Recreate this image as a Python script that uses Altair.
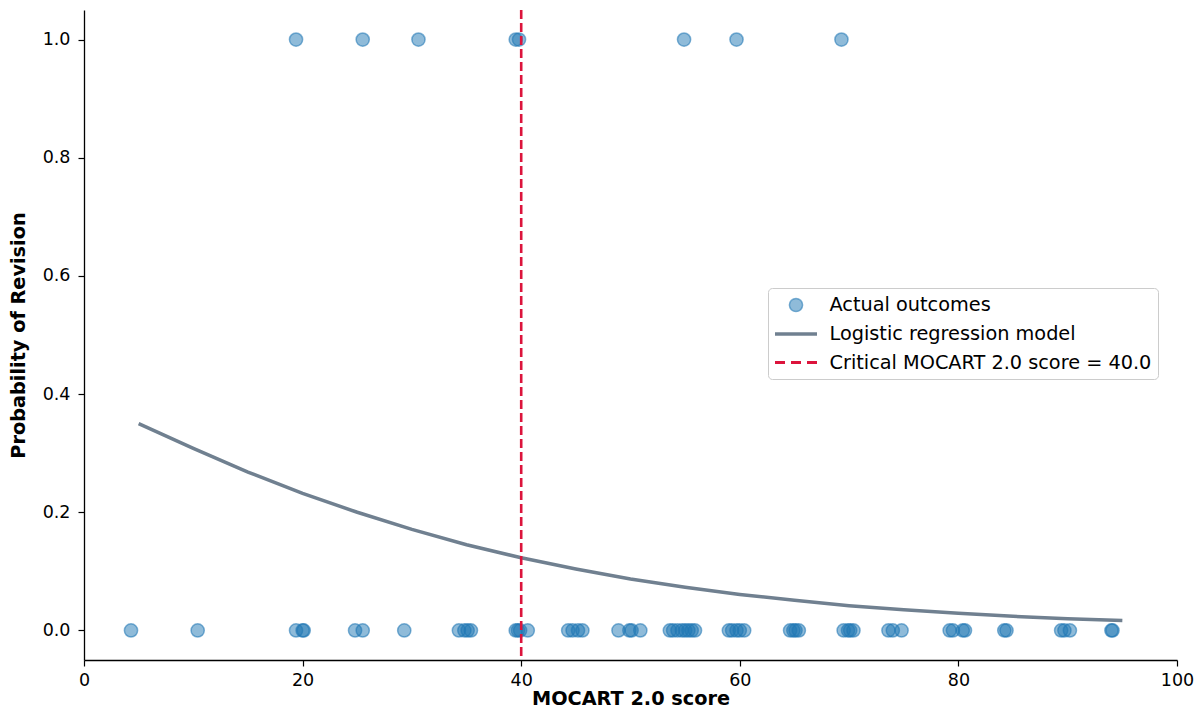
import altair as alt
import pandas as pd

# ---- data ----
revised_scores = [19.4, 25.5, 30.6, 39.5, 39.8, 54.9, 59.7, 69.3]
not_revised_scores = [4.3, 10.4, 19.4, 20.0, 20.1, 24.8, 25.5, 29.3,
                      34.3, 34.8, 35.1, 35.4, 39.5, 39.7, 39.9, 40.6,
                      44.3, 44.7, 45.2, 45.6, 48.9, 49.9, 50.1, 50.9,
                      53.6, 53.9, 54.3, 54.7, 55.0, 55.3, 55.6, 55.9,
                      59.0, 59.3, 59.7, 60.0, 60.4,
                      64.6, 64.9, 65.1, 65.4, 69.5, 69.9, 70.1, 70.4,
                      73.6, 74.0, 74.8, 79.2, 79.5, 80.4, 80.6,
                      84.2, 84.4, 89.4, 89.7, 90.2, 94.0, 94.1]
curve_scores = [5, 10, 15, 20, 25, 30, 35, 40, 45, 50, 55, 60, 65, 70, 75, 80, 85, 90, 95]
curve_prob = [0.350, 0.308, 0.268, 0.232, 0.200, 0.171, 0.145, 0.123, 0.104, 0.087,
              0.073, 0.061, 0.051, 0.042, 0.035, 0.029, 0.024, 0.020, 0.017]
critical_score = [40.0]

series_names = ["Actual outcomes", "Logistic regression model",
                "Critical MOCART 2.0 score = 40.0"]

x_ticks = [0, 20, 40, 60, 80, 100]
y_ticks = [0.0, 0.2, 0.4, 0.6, 0.8, 1.0]

points = pd.DataFrame({
    "score": revised_scores + not_revised_scores,
    "outcome": [1.0] * len(revised_scores) + [0.0] * len(not_revised_scores),
    "series": [series_names[0]] * (len(revised_scores) + len(not_revised_scores)),
})
curve = pd.DataFrame({"score": curve_scores, "prob": curve_prob})
crit = pd.DataFrame({"score": critical_score})

FONT = "DejaVu Sans"
BLUE_FILL = "rgba(31,119,180,0.5)"
BLUE_EDGE = "rgba(31,119,180,0.55)"
GRAY = "#708090"
RED = "#DC143C"

circle_path = "M-0.66,0A0.66,0.66,0,1,1,0.66,0A0.66,0.66,0,1,1,-0.66,0Z"
line_path = "M-2.1,0H2.1"
dash_path = "M-2.1,0H-1.1M-0.5,0H0.5M1.1,0H2.1"

x_scale = alt.Scale(domain=[0, 100], nice=False, zero=False)
y_scale = alt.Scale(domain=[-0.05, 1.05], nice=False, zero=False)

axis_common = dict(grid=False, tickSize=6, tickWidth=1.2, tickColor="black",
                   domainColor="black", domainWidth=1.3,
                   labelFont=FONT, labelFontSize=17.5, labelColor="black",
                   titleFont=FONT, titleFontSize=19.3, titleFontWeight="bold",
                   titleColor="black", labelFlush=False)

x_axis = alt.Axis(title="MOCART 2.0 score", values=x_ticks, format="d",
                  labelPadding=5, titlePadding=1, **axis_common)
y_axis = alt.Axis(title="Probability of Revision", values=y_ticks, format=".1f",
                  labelPadding=8, titlePadding=14, **axis_common)

legend = alt.Legend(title=None, orient="none", legendX=684, legendY=278,
                    padding=6, fillColor="white", strokeColor="#cccccc",
                    cornerRadius=4, labelFont=FONT, labelFontSize=19.3,
                    labelColor="black", symbolSize=400, symbolOffset=10,
                    labelOffset=21.5, rowPadding=6, labelLimit=600,
                    symbolOpacity=1,
                    symbolFillColor="transparent", symbolStrokeColor="black")

pts = alt.Chart(points).mark_point(filled=True, size=400, opacity=1).encode(
    x=alt.X("score:Q", scale=x_scale, axis=x_axis),
    y=alt.Y("outcome:Q", scale=y_scale, axis=y_axis),
    fill=alt.Fill("series:N", scale=alt.Scale(domain=series_names,
                  range=[BLUE_FILL, "transparent", "transparent"]), legend=legend),
    stroke=alt.Stroke("series:N", scale=alt.Scale(domain=series_names,
                      range=[BLUE_EDGE, GRAY, RED]), legend=legend),
    shape=alt.Shape("series:N", scale=alt.Scale(domain=series_names,
                    range=[circle_path, line_path, dash_path]), legend=legend),
    strokeWidth=alt.StrokeWidth("series:N", scale=alt.Scale(type="ordinal", domain=series_names,
                                range=[1.5, 3.5, 2.8]), legend=legend),
)

line = alt.Chart(curve).mark_line(color=GRAY, strokeWidth=3.5).encode(
    x=alt.X("score:Q", scale=x_scale),
    y=alt.Y("prob:Q", scale=y_scale),
)

rule = alt.Chart(crit).mark_rule(color=RED, strokeWidth=2.6, strokeDash=[9, 4]).encode(
    x=alt.X("score:Q", scale=x_scale),
)

chart = alt.layer(pts, line, rule).properties(
    width=1093, height=650,
    autosize=alt.AutoSizeParams(type="none"),
    padding={"left": 76, "top": 2, "right": 17, "bottom": 50},
    background="white",
).configure_view(strokeWidth=0)

chart.save("out.html", embed_options={"renderer": "svg", "actions": False})
